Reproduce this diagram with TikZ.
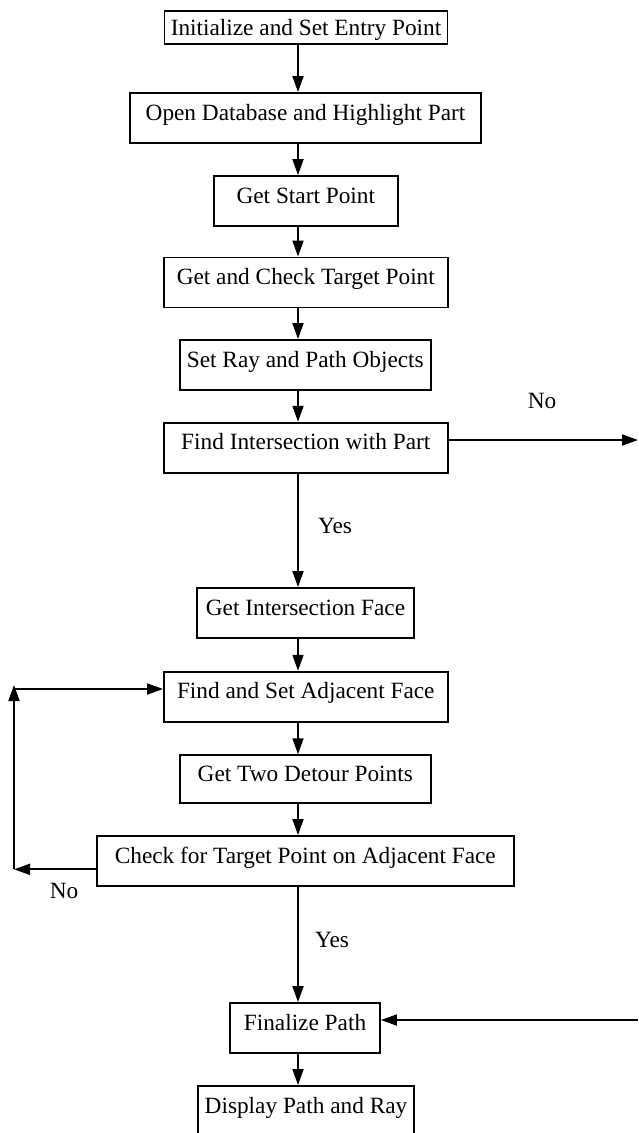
\documentclass[tikz,border=0pt]{standalone}
\usepackage{fontspec}
\setmainfont{Liberation Serif}
\usetikzlibrary{arrows.meta}

\begin{document}
\begin{tikzpicture}[
  x=1pt, y=-1pt,
  font=\fontsize{23.3}{27}\selectfont,
  stepbox/.style={draw, line width=1.9pt, inner sep=0pt, align=center,
    minimum height=50pt, text height=11pt, text depth=7pt},
  arr/.style={line width=1.8pt, -{Triangle[length=16pt, width=11pt]}},
  tag/.style={anchor=base, inner sep=0pt}
]
% page frame
\fill[white] (0,0) rectangle (638,1133);
\useasboundingbox (0,0) rectangle (638,1133);

% x position of the main vertical flow line
\coordinate (spine) at (298,0);

% process steps
\node[stepbox, minimum width=283pt, minimum height=33pt, text height=17pt, text depth=1pt]
  (init) at (306,27.7) {Initialize and Set Entry Point};
\node[stepbox, minimum width=351pt] (open)     at (305.5,118) {Open Database and Highlight Part};
\node[stepbox, minimum width=184pt] (start)    at (305.8,201)   {Get Start Point};
\node[stepbox, minimum width=283.6pt] (target) at (305.8,282.5) {Get and Check Target Point};
\node[stepbox, minimum width=250.5pt] (ray)    at (305.3,365)   {Set Ray and Path Objects};
\node[stepbox, minimum width=283.6pt] (findint) at (305.8,447.7) {Find Intersection with Part};
\node[stepbox, minimum width=217pt] (face)     at (305.5,613)   {Get Intersection Face};
\node[stepbox, minimum width=283.6pt] (adj)    at (305.8,696.7) {Find and Set Adjacent Face};
\node[stepbox, minimum width=250.5pt, minimum height=48pt] (detour) at (305.3,779.2) {Get Two Detour Points};
\node[stepbox, minimum width=416.5pt] (check)  at (305.3,861)   {Check for Target Point on Adjacent Face};
\node[stepbox, minimum width=150pt] (final)    at (305,1028)    {Finalize Path};
\node[stepbox, minimum width=216pt] (disp)     at (306,1111)    {Display Path and Ray};

% main flow
\draw[arr] (init.south -| spine)    -- (open.north -| spine);
\draw[arr] (open.south -| spine)    -- (start.north -| spine);
\draw[arr] (start.south -| spine)   -- (target.north -| spine);
\draw[arr] (target.south -| spine)  -- (ray.north -| spine);
\draw[arr] (ray.south -| spine)     -- (findint.north -| spine);
\draw[arr] (findint.south -| spine) -- (face.north -| spine);
\draw[arr] (face.south -| spine)    -- (adj.north -| spine);
\draw[arr] (adj.south -| spine)     -- (detour.north -| spine);
\draw[arr] (detour.south -| spine)  -- (check.north -| spine);
\draw[arr] (check.south -| spine)   -- (final.north -| spine);
\draw[arr] (final.south -| spine)   -- (disp.north -| spine);

% no intersection: leave to the right, come back into Finalize Path
\coordinate (noexit)  at (638,440);
\coordinate (reenter) at (638,1020);
\draw[arr] (findint.east |- noexit) -- (noexit);
\draw[arr] (reenter) -- (final.east |- reenter);

% loop back to the next adjacent face
\coordinate (loopbot) at (14,869.3);
\coordinate (looptop) at (14,689);
\draw[arr] (check.west |- loopbot) -- (loopbot);
\draw[arr] (loopbot) -- ([yshift=4pt]looptop);
\draw[line width=1.8pt] (loopbot) -- (looptop);
\draw[arr] ([xshift=-0.9pt]looptop) -- (adj.west |- looptop);

% branch labels
\node[tag] (no1)  at (542,408.3) {No};
\node[tag] (yes1) at (335,533)   {Yes};
\node[tag] (no2)  at (64,898)    {No};
\node[tag] (yes2) at (332,947)   {Yes};
\end{tikzpicture}
\end{document}
